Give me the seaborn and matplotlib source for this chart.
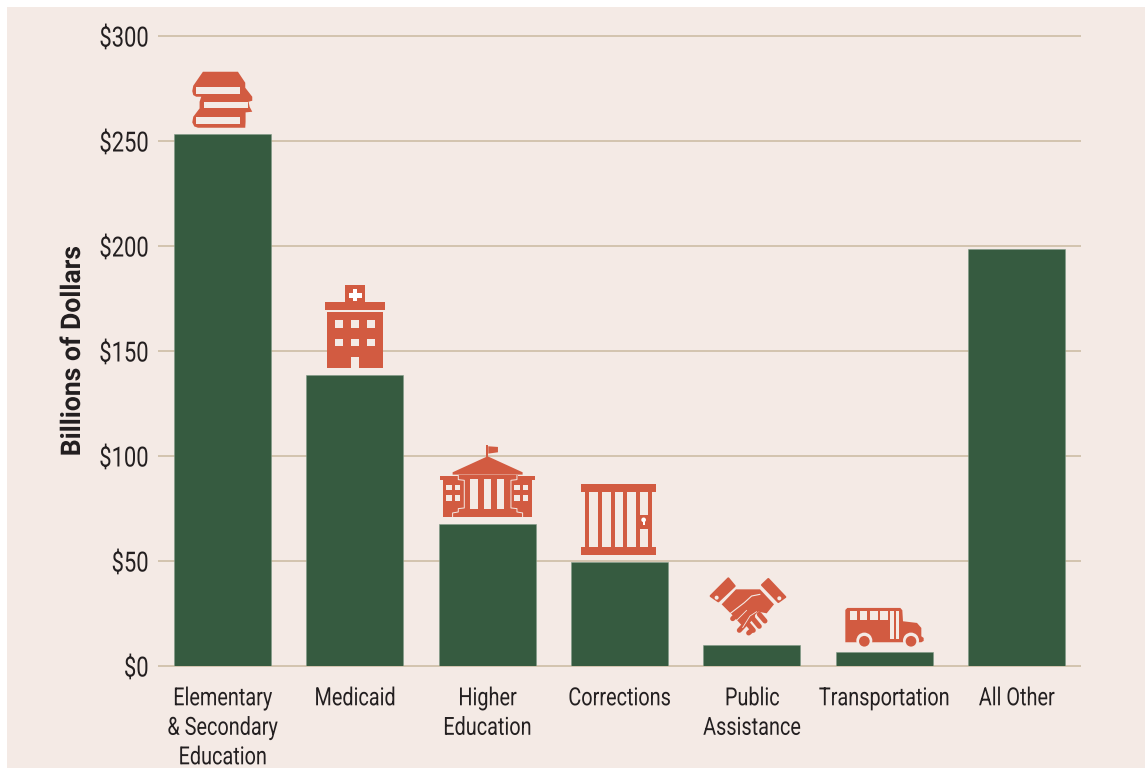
import matplotlib
matplotlib.use('Agg')
import matplotlib.pyplot as plt
import seaborn as sns
import pandas as pd
from matplotlib.patches import Polygon, Rectangle, Circle
from matplotlib.lines import Line2D
from matplotlib.patheffects import AbstractPathEffect
from matplotlib.transforms import Affine2D

categories = ['Elementary\n& Secondary\nEducation', 'Medicaid', 'Higher\nEducation', 'Corrections',
              'Public\nAssistance', 'Transportation', 'All Other']
values = [253.3, 138.6, 67.8, 49.6, 10.0, 6.7, 198.7]
y_ticks = [0, 50, 100, 150, 200, 250, 300]

BG = '#F4EAE5'
GREEN = '#365B40'
RED = '#D25B41'
GRID = '#CDBDA5'
INK = '#231F20'


# no condensed family is installed, so squeeze the glyphs of each text line sideways
class Narrow(AbstractPathEffect):
    def __init__(self, sx, anchor='center'):
        super().__init__()
        self.sx = sx
        self.anchor = anchor

    def draw_path(self, renderer, gc, tpath, affine, rgbFace=None):
        box = tpath.get_extents()
        c = box.x1 if self.anchor == 'right' else (box.x0 + box.x1) / 2
        squeeze = Affine2D().translate(-c, 0).scale(self.sx, 1).translate(c, 0)
        renderer.draw_path(gc, tpath, squeeze + affine, rgbFace)


sns.set_theme(style='white')
plt.rcParams['font.family'] = ['Roboto', 'Liberation Sans', 'DejaVu Sans']

fig = plt.figure(figsize=(11.45, 7.68), dpi=100, facecolor='white')
fig.patches.append(Rectangle((7 / 1145, 0), 1138 / 1145, 761 / 768, transform=fig.transFigure, facecolor=BG, edgecolor='none', zorder=-5))
ax = fig.add_axes([158 / 1145, 102 / 768, 923 / 1145, 630 / 768])
ax.patch.set_alpha(0)

df = pd.DataFrame({'category': categories, 'value': values})
sns.barplot(data=df, x='category', y='value', color=GREEN, saturation=1, width=0.733, ax=ax, zorder=3,
            edgecolor='#7F9A86', linewidth=0.4)

ax.set_xlim(-0.488, 6.486)
ax.set_ylim(0, 300)
ax.set_yticks(y_ticks)
ax.set_yticklabels(['${}'.format(t) for t in y_ticks])
ax.set_xlabel('')
ax.set_ylabel('Billions of Dollars', fontsize=19.5, fontweight='bold', color=INK)
ax.yaxis.set_label_coords(-72 / 923, 0.5)
ax.yaxis.label.set_path_effects([Narrow(0.98)])
ax.tick_params(axis='y', length=0, pad=6.5, labelsize=20, labelcolor=INK)
ax.tick_params(axis='x', length=0, pad=14.6, labelsize=18, labelcolor=INK)
for lab in ax.get_xticklabels():
    lab.set_linespacing(1.29)
    lab.set_fontweight(400)
    lab.set_path_effects([Narrow(0.795)])
for lab in ax.get_yticklabels():
    lab.set_fontweight(400)
    lab.set_path_effects([Narrow(0.79, 'right')])
for s in ax.spines.values():
    s.set_visible(False)
ax.yaxis.grid(True, color=GRID, linewidth=1.2, zorder=0, solid_capstyle='butt')
ax.set_axisbelow(True)
for g in ax.get_ygridlines():
    g.set_clip_on(False)


# icons are traced in 3x pixels, (ox, oy) is the spot that sits on the bar's top centre
def icon_tf(i, ox, oy):
    px, py = ax.transData.transform((i, values[i]))
    return Affine2D().translate(-ox, -oy).scale(1 / 3, -1 / 3).translate(px, py)


def poly(tf, pts, color=RED, lw=0):
    fig.add_artist(Polygon(pts, closed=True, facecolor=color, edgecolor=color if lw else 'none', linewidth=lw,
                           joinstyle='round', transform=tf, zorder=6))


def rect(tf, x0, y0, x1, y1, color=RED):
    poly(tf, [(x0, y0), (x1, y0), (x1, y1), (x0, y1)], color)


def circ(tf, x, y, r, color=RED):
    fig.add_artist(Circle((x, y), r, facecolor=color, edgecolor='none', transform=tf, zorder=6))


def stroke(tf, pts, lw, color=RED):
    xs = [p[0] for p in pts]
    ys = [p[1] for p in pts]
    fig.add_artist(Line2D(xs, ys, color=color, linewidth=lw, solid_capstyle='round', transform=tf, zorder=6))


# books
tf = icon_tf(0, 129, 207)
poly(tf, [(70, 20), (175, 20), (197, 53), (197, 68), (218, 95), (218, 107), (207, 110), (210, 125), (218, 140), (198, 142),
          (198, 170), (197, 188), (55, 188), (44, 184), (38, 172), (41, 155), (60, 130), (60, 110), (65, 95), (50, 95), (41, 90),
          (38, 78), (41, 62)])
rect(tf, 50, 67, 182, 87, BG)
rect(tf, 72, 110, 205, 130, BG)
rect(tf, 50, 155, 182, 177, BG)

# hospital
tf = icon_tf(1, 1065, 1127)
rect(tf, 1036, 858, 1095, 908)
rect(tf, 975, 908, 1155, 932)
rect(tf, 982, 939, 1148, 1105)
rect(tf, 1060, 870, 1072, 905, 'white')
rect(tf, 1047, 880, 1085, 895, 'white')
for x in [1006, 1054, 1102]:
    for y in [963, 1018]:
        rect(tf, x, y, x + 23, y + 23, BG)
rect(tf, 1054, 1073, 1077, 1105, BG)

# university
tf = icon_tf(2, 199, 282)
rect(tf, 196, 47, 202, 85)
poly(tf, [(202, 50), (231, 52), (231, 68), (202, 72)])
poly(tf, [(200, 80), (305, 128), (305, 135), (95, 135), (95, 128)])
rect(tf, 110, 135, 290, 263)
rect(tf, 65, 152, 130, 263)
rect(tf, 270, 152, 333, 263)
rect(tf, 57, 138, 112, 150)
rect(tf, 288, 138, 341, 150)
for x0, x1 in [(148, 172), (188, 211), (228, 250)]:
    rect(tf, x0, 148, x1, 237, BG)
for x0, x1 in [(75, 92), (102, 118), (280, 297), (307, 322)]:
    for y0, y1 in [(165, 182), (196, 214)]:
        rect(tf, x0, y0, x1, y1, BG)
stroke(tf, [(112, 137), (112, 150), (130, 152), (130, 235), (112, 237), (112, 247), (95, 250), (95, 263)], 0.7, BG)
stroke(tf, [(288, 137), (288, 150), (270, 152), (270, 235), (288, 237), (288, 247), (305, 250), (305, 263)], 0.7, BG)

# cell door
tf = icon_tf(3, 590, 397)
rect(tf, 475, 164, 698, 187)
rect(tf, 475, 353, 698, 376)
rect(tf, 487, 187, 687, 353)
for x0, x1 in [(499, 526), (537, 563), (575, 601), (612, 638)]:
    rect(tf, x0, 187, x1, 353, BG)
rect(tf, 650, 187, 676, 257, BG)
rect(tf, 650, 297, 676, 353, BG)
circ(tf, 662, 271, 7, 'white')
rect(tf, 659, 271, 666, 287, 'white')

# handshake
tf = icon_tf(4, 156, 222)
poly(tf, [(85, 22), (104, 45), (55, 91), (32, 75)], lw=1.5)
poly(tf, [(205, 24), (256, 78), (235, 93), (186, 42)], lw=1.5)
circ(tf, 50, 80, 6, BG)
circ(tf, 238, 82, 6, BG)
poly(tf, [(65, 100), (108, 55), (180, 55), (222, 100), (200, 127), (175, 122), (130, 168), (95, 130)])
stroke(tf, [(98, 143), (135, 108)], 3.6)
stroke(tf, [(118, 178), (158, 135)], 3.6)
stroke(tf, [(146, 186), (155, 178)], 3.6)
stroke(tf, [(195, 150), (178, 130)], 3.6)
stroke(tf, [(178, 166), (158, 142)], 3.6)
stroke(tf, [(160, 178), (143, 158)], 3.6)
stroke(tf, [(90, 128), (133, 95), (155, 75), (180, 70)], 0.8, BG)
stroke(tf, [(108, 150), (140, 118)], 0.6, BG)
stroke(tf, [(170, 122), (150, 135), (128, 170)], 0.6, BG)

# bus
tf = icon_tf(5, 147, 157)
poly(tf, [(36, 25), (195, 25), (201, 32), (203, 65), (245, 70), (258, 85), (258, 110), (265, 115), (265, 124), (258, 128), (30, 128), (30, 31)])
for x0, x1 in [(44, 66), (74, 96), (104, 127), (135, 157)]:
    rect(tf, x0, 35, x1, 60, BG)
rect(tf, 165, 33, 175, 118, BG)
rect(tf, 182, 33, 192, 118, BG)
for x in [87, 227]:
    circ(tf, x, 123, 24, BG)
    circ(tf, x, 125, 16)

fig.savefig('out.png', dpi=100, facecolor='white')
plt.close(fig)
